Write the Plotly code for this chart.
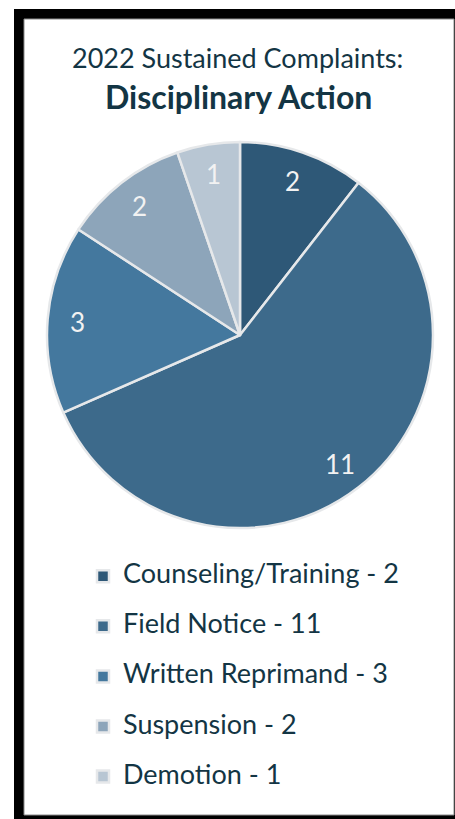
import math
import plotly.graph_objects as go

categories = ["Counseling/Training", "Field Notice", "Written Reprimand", "Suspension", "Demotion"]
values = [2, 11, 3, 2, 1]
colors = ["#2E5877", "#3D6A8B", "#44789E", "#8DA5BA", "#B8C6D3"]
title_line1 = "2022 Sustained Complaints:"
title_line2 = "Disciplinary Action"

W, H = 455, 819
FONT = "Lato, 'Open Sans', sans-serif"
TXT = "#133544"
CX, CY, R = 240, 335, 193  # pie centre and radius in pixels (layout)


def px(x):
    return x / W


def py(y):
    return 1 - y / H


labels = [f"<span style='font-size:27px'>{c} - {v}</span><br> " for c, v in zip(categories, values)]

fig = go.Figure(go.Pie(
    labels=labels,
    values=values,
    sort=False,
    direction="clockwise",
    rotation=0,
    marker=dict(colors=colors, line=dict(color="#E6E8EA", width=2.5)),
    textinfo="none",
    domain=dict(x=[px(CX - R), px(CX + R)], y=[py(CY + R), py(CY - R)]),
    hoverinfo="skip",
))

# value labels placed near the outer edge of each slice, derived from the data
annotations = []
total = sum(values)
cum = 0
for v in values:
    mid = (cum + v / 2) / total * 2 * math.pi
    cum += v
    rr = 0.845 * R
    annotations.append(dict(
        text=str(v), x=px(CX + rr * math.sin(mid)), y=py(CY - rr * math.cos(mid)),
        xref="paper", yref="paper", showarrow=False, xanchor="center", yanchor="middle",
        font=dict(family=FONT, size=26, color="#F2F2F2"),
    ))

annotations += [
    dict(text=title_line1, x=px(237), y=py(58), xref="paper", yref="paper", showarrow=False,
         font=dict(family=FONT, size=27, color=TXT), xanchor="center", yanchor="middle"),
    dict(text=f"<b>{title_line2}</b>", x=px(238), y=py(96), xref="paper", yref="paper", showarrow=False,
         font=dict(family=FONT, size=32, color=TXT), xanchor="center", yanchor="middle"),
]

shapes = [
    dict(type="rect", xref="paper", yref="paper", x0=px(14), x1=px(455), y0=py(819), y1=py(9),
         fillcolor="black", line=dict(width=0), layer="below"),
    dict(type="rect", xref="paper", yref="paper", x0=px(24), x1=px(454), y0=py(815), y1=py(19),
         fillcolor="white", line=dict(color="#8A8A8A", width=1), layer="below"),
]

fig.update_layout(
    width=W, height=H,
    margin=dict(l=0, r=0, t=0, b=0),
    paper_bgcolor="white",
    plot_bgcolor="white",
    shapes=shapes,
    annotations=annotations,
    showlegend=True,
    legend=dict(
        x=px(83), y=py(558), xanchor="left", yanchor="top",
        orientation="v", valign="top",
        font=dict(family=FONT, size=18.1, color=TXT),
        bgcolor="rgba(0,0,0,0)",
    ),
)

fig.write_html("out.html", config={"displayModeBar": False},
               post_script="document.body.style.margin='0';document.body.style.padding='0';")
